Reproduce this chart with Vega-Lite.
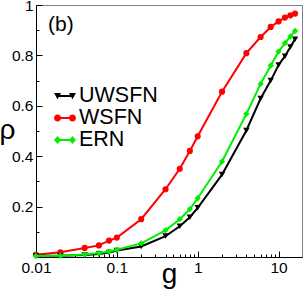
{
  "$schema": "https://vega.github.io/schema/vega-lite/v6.json",
  "autosize": {"type": "none"},
  "padding": {"left": 36, "top": 5, "right": 1, "bottom": 34},
  "width": 266,
  "height": 252,
  "config": {
    "font": "Liberation Sans",
    "view": {"stroke": "#808080", "strokeWidth": 1},
    "axis": {"grid": false, "domainColor": "black", "tickColor": "black", "labelColor": "black", "titleColor": "black", "labelFontSize": 15.5, "labelFont": "Liberation Sans", "titleFont": "Liberation Sans", "titleFontWeight": "normal", "labelFlush": false, "labelOverlap": false}
  },
  "data": {
    "values": [
      {"series": "UWSFN", "g": 0.01, "rho": 0.005},
      {"series": "UWSFN", "g": 0.02, "rho": 0.005},
      {"series": "UWSFN", "g": 0.04, "rho": 0.008},
      {"series": "UWSFN", "g": 0.06, "rho": 0.012},
      {"series": "UWSFN", "g": 0.08, "rho": 0.018},
      {"series": "UWSFN", "g": 0.1, "rho": 0.026},
      {"series": "UWSFN", "g": 0.2, "rho": 0.042},
      {"series": "UWSFN", "g": 0.4, "rho": 0.083},
      {"series": "UWSFN", "g": 0.6, "rho": 0.122},
      {"series": "UWSFN", "g": 0.8, "rho": 0.158},
      {"series": "UWSFN", "g": 1, "rho": 0.195},
      {"series": "UWSFN", "g": 2, "rho": 0.327},
      {"series": "UWSFN", "g": 4, "rho": 0.502},
      {"series": "UWSFN", "g": 6, "rho": 0.629},
      {"series": "UWSFN", "g": 8, "rho": 0.700},
      {"series": "UWSFN", "g": 10, "rho": 0.762},
      {"series": "UWSFN", "g": 12, "rho": 0.797},
      {"series": "UWSFN", "g": 14, "rho": 0.833},
      {"series": "UWSFN", "g": 16, "rho": 0.864},
      {"series": "WSFN", "g": 0.01, "rho": 0.009},
      {"series": "WSFN", "g": 0.02, "rho": 0.019},
      {"series": "WSFN", "g": 0.04, "rho": 0.036},
      {"series": "WSFN", "g": 0.06, "rho": 0.046},
      {"series": "WSFN", "g": 0.08, "rho": 0.065},
      {"series": "WSFN", "g": 0.1, "rho": 0.077},
      {"series": "WSFN", "g": 0.2, "rho": 0.150},
      {"series": "WSFN", "g": 0.4, "rho": 0.269},
      {"series": "WSFN", "g": 0.6, "rho": 0.350},
      {"series": "WSFN", "g": 0.8, "rho": 0.421},
      {"series": "WSFN", "g": 1, "rho": 0.479},
      {"series": "WSFN", "g": 2, "rho": 0.656},
      {"series": "WSFN", "g": 4, "rho": 0.809},
      {"series": "WSFN", "g": 6, "rho": 0.873},
      {"series": "WSFN", "g": 8, "rho": 0.913},
      {"series": "WSFN", "g": 10, "rho": 0.935},
      {"series": "WSFN", "g": 12, "rho": 0.950},
      {"series": "WSFN", "g": 14, "rho": 0.959},
      {"series": "WSFN", "g": 16, "rho": 0.966},
      {"series": "ERN", "g": 0.01, "rho": 0.004},
      {"series": "ERN", "g": 0.02, "rho": 0.005},
      {"series": "ERN", "g": 0.04, "rho": 0.010},
      {"series": "ERN", "g": 0.06, "rho": 0.016},
      {"series": "ERN", "g": 0.08, "rho": 0.022},
      {"series": "ERN", "g": 0.1, "rho": 0.029},
      {"series": "ERN", "g": 0.2, "rho": 0.054},
      {"series": "ERN", "g": 0.4, "rho": 0.106},
      {"series": "ERN", "g": 0.6, "rho": 0.150},
      {"series": "ERN", "g": 0.8, "rho": 0.190},
      {"series": "ERN", "g": 1, "rho": 0.233},
      {"series": "ERN", "g": 2, "rho": 0.379},
      {"series": "ERN", "g": 4, "rho": 0.568},
      {"series": "ERN", "g": 6, "rho": 0.687},
      {"series": "ERN", "g": 8, "rho": 0.760},
      {"series": "ERN", "g": 10, "rho": 0.815},
      {"series": "ERN", "g": 12, "rho": 0.849},
      {"series": "ERN", "g": 14, "rho": 0.875},
      {"series": "ERN", "g": 16, "rho": 0.897}
    ]
  },
  "resolve": {"axis": {"x": "independent", "y": "independent"}},
  "layer": [
    {
      "encoding": {
        "x": {"field": "g", "type": "quantitative", "scale": {"type": "log", "domain": [0.01, 19.5], "nice": false},
          "axis": {"orient": "bottom", "values": [0.01, 0.1, 1, 10], "format": "~g", "title": "g", "tickSize": -6, "labelPadding": 9, "titleFontSize": 28, "titleY": 25, "titleBaseline": "alphabetic"}},
        "y": {"field": "rho", "type": "quantitative", "scale": {"domain": [0, 1], "nice": false, "zero": false},
          "axis": {"orient": "left", "values": [0.2, 0.4, 0.6, 0.8, 1], "format": "~g", "title": "ρ", "tickSize": -6, "labelPadding": 9, "titleFontSize": 28, "titleAngle": 0, "titleX": -37, "titleY": 133, "titleAlign": "left", "titleBaseline": "alphabetic"}}
      },
      "layer": [
        {
          "transform": [{"filter": {"field": "series", "equal": "WSFN"}}],
          "mark": {"type": "line", "color": "#ff0000", "strokeWidth": 2, "point": {"shape": "circle", "size": 38, "filled": true, "color": "#ff0000"}}
        },
        {
          "transform": [{"filter": {"field": "series", "equal": "UWSFN"}}],
          "mark": {"type": "line", "color": "#000000", "strokeWidth": 2, "point": {"shape": "triangle-down", "size": 40, "filled": true, "color": "#000000"}}
        },
        {
          "transform": [{"filter": {"field": "series", "equal": "ERN"}}],
          "mark": {"type": "line", "color": "#00ee00", "strokeWidth": 2, "point": {"shape": "diamond", "size": 40, "filled": true, "color": "#00ee00"}}
        },
        {
          "data": {"values": [{"label": "(b)", "g": 0.0141, "rho": 0.898}]},
          "mark": {"type": "text", "align": "left", "baseline": "alphabetic", "fontSize": 21, "font": "Liberation Sans", "color": "black"},
          "encoding": {"text": {"field": "label", "type": "nominal"}}
        }
      ]
    },
    {
      "transform": [{"filter": {"field": "series", "equal": "none"}}],
      "mark": {"type": "point", "filled": true, "opacity": 1},
      "encoding": {
        "x": {"field": "g", "type": "quantitative", "scale": {"type": "log", "domain": [0.01, 19.5], "nice": false},
          "axis": {"orient": "bottom", "values": [0.02, 0.03, 0.04, 0.05, 0.06, 0.07, 0.08, 0.09, 0.2, 0.3, 0.4, 0.5, 0.6, 0.7, 0.8, 0.9, 2, 3, 4, 5, 6, 7, 8, 9], "labels": false, "domain": false, "title": null, "tickSize": -3}},
        "y": {"field": "rho", "type": "quantitative", "scale": {"domain": [0, 1], "nice": false, "zero": false},
          "axis": {"orient": "left", "values": [0.1, 0.3, 0.5, 0.7, 0.9], "labels": false, "domain": false, "title": null, "tickSize": -3}},
        "color": {"field": "series", "type": "nominal",
          "scale": {"domain": ["UWSFN", "WSFN", "ERN"], "range": ["#000000", "#ff0000", "#00ee00"]},
          "legend": {"title": null, "orient": "none", "legendX": 18, "legendY": 80, "labelFontSize": 21.5, "labelFont": "Liberation Sans", "labelColor": "black", "symbolSize": 484, "labelOffset": 3, "rowPadding": -1, "symbolStrokeWidth": 0}},
        "shape": {"field": "series", "type": "nominal",
          "scale": {"domain": ["UWSFN", "WSFN", "ERN"], "range": [
            "M-0.7,-0.09L0.7,-0.09L0.7,0.09L-0.7,0.09Z M-1,-0.28L-0.36,-0.28L-0.68,0.3Z M0.36,-0.28L1,-0.28L0.68,0.3Z",
            "M-0.7,-0.09L0.7,-0.09L0.7,0.09L-0.7,0.09Z M-1,0A0.32,0.32 0 1,1 -0.36,0A0.32,0.32 0 1,1 -1,0Z M0.36,0A0.32,0.32 0 1,1 1,0A0.32,0.32 0 1,1 0.36,0Z",
            "M-0.7,-0.09L0.7,-0.09L0.7,0.09L-0.7,0.09Z M-0.68,-0.36L-0.36,0L-0.68,0.36L-1,0Z M0.68,-0.36L1,0L0.68,0.36L0.36,0Z"
          ]},
          "legend": {"title": null, "orient": "none", "legendX": 18, "legendY": 80, "labelFontSize": 21.5, "labelFont": "Liberation Sans", "labelColor": "black", "symbolSize": 484, "labelOffset": 3, "rowPadding": -1, "symbolStrokeWidth": 0}}
      }
    }
  ]
}
